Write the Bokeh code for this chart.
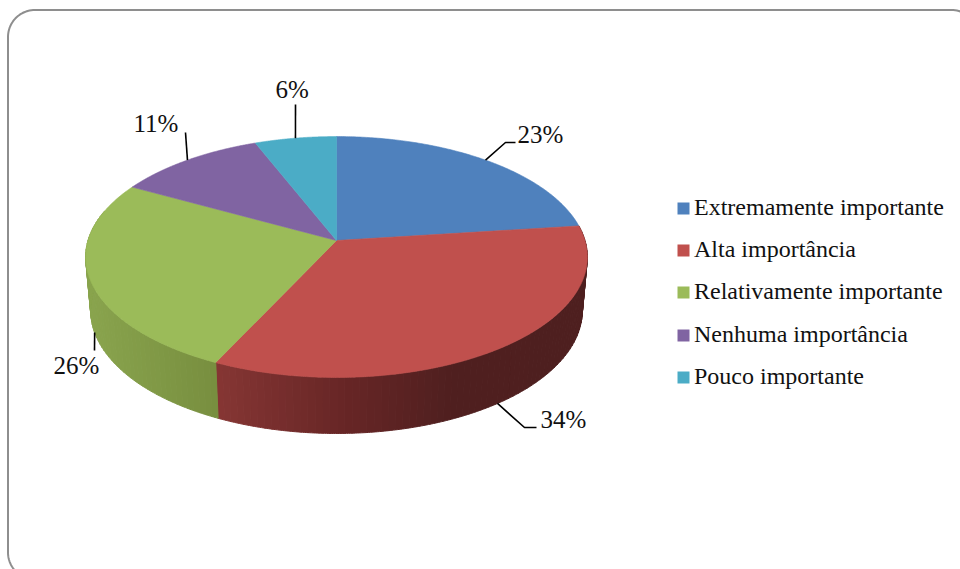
import numpy as np
from bokeh.core.properties import value
from bokeh.embed import file_html
from bokeh.models import ColumnDataSource, Range1d
from bokeh.plotting import figure
from bokeh.resources import INLINE

# Survey shares, clockwise from twelve o'clock
categories = ["Extremamente importante", "Alta importância", "Relativamente importante",
              "Nenhuma importância", "Pouco importante"]
shares = [23, 34, 26, 11, 6]
top_colors = ["#4F81BD", "#C0504D", "#9BBB59", "#8064A2", "#4BACC6"]

# Perspective of the tilted disc, in page pixels
CX, CY = 336.0, 240.0
RX, RY, PERSP = 248.5, 118.2, 0.137
DEPTH_SCALE = 0.98

FONT = value("Liberation Serif")


def rim(theta):
    """Top rim of the disc at clockwise angle theta (radians from north)."""
    u, v = np.sin(theta), np.cos(theta)
    d = 1 + PERSP * v
    return CX + RX * u / d, CY - RY * v / d


def base(theta):
    """Lower rim: the top rim pulled in and dropped by the disc thickness."""
    x, y = rim(theta)
    return CX + DEPTH_SCALE * (x - CX), y + 53 - 3 * np.cos(theta)


edges = 2 * np.pi * np.cumsum([0] + shares) / sum(shares)
mids = (edges[:-1] + edges[1:]) / 2

p = figure(width=960, height=569, output_backend="svg", toolbar_location=None,
           x_range=Range1d(0, 960), y_range=Range1d(569, 0),
           min_border=0, outline_line_color=None, background_fill_color="white",
           border_fill_color="white")
p.axis.visible = False
p.grid.visible = False

# Rounded slide frame, running off the right and bottom of the page
corner = np.linspace(0, np.pi / 2, 24)
FR = 27
L, T, R, B = 7.5, 9.5, 978, 579
frame_x = np.concatenate([L + FR - FR * np.cos(corner),
                          R - FR + FR * np.sin(corner),
                          R - FR + FR * np.cos(corner),
                          L + FR - FR * np.sin(corner)])
frame_y = np.concatenate([T + FR - FR * np.sin(corner),
                          T + FR - FR * np.cos(corner),
                          B - FR + FR * np.sin(corner),
                          B - FR + FR * np.cos(corner)])
p.line(np.append(frame_x, frame_x[0]), np.append(frame_y, frame_y[0]),
       line_color="#8E8E8E", line_width=2)

# Side wall, shaded in narrow vertical bands
red_stops = ([216, 340, 450, 600], [(134, 54, 52), (104, 38, 38), (79, 31, 31), (78, 31, 31)])
green_stops = ([85, 216], [(138, 165, 78), (120, 143, 63)])


def shade(x, stops):
    xs, cols = stops
    return "#%02x%02x%02x" % tuple(int(round(np.interp(x, xs, [c[i] for c in cols]))) for i in range(3))


wall = dict(xs=[], ys=[], color=[])
for start, stop, stops in [(edges[1], edges[2], red_stops),
                           (edges[2], np.radians(285), green_stops)]:
    ticks = np.linspace(start, stop, int((stop - start) / np.radians(1.5)) + 2)
    for a, b in zip(ticks[:-1], ticks[1:]):
        t = np.linspace(a, b, 5)
        tx, ty = rim(t)
        bx, by = base(t)
        wall["xs"].append(np.concatenate([tx, bx[::-1]]).tolist())
        wall["ys"].append(np.concatenate([ty, by[::-1]]).tolist())
        wall["color"].append(shade(bx.mean(), stops))
p.patches("xs", "ys", source=ColumnDataSource(wall), fill_color="color", line_color="color", line_width=1)

# Top face of every slice
faces = dict(xs=[], ys=[], color=top_colors, name=categories)
for a, b in zip(edges[:-1], edges[1:]):
    t = np.linspace(a, b, 160)
    x, y = rim(t)
    faces["xs"].append([CX, *x.tolist()])
    faces["ys"].append([CY, *y.tolist()])
p.patches("xs", "ys", source=ColumnDataSource(faces), fill_color="color", line_color="color", line_width=0.6)

# Percentage labels with leader lines; each leader leaves the rim at the slice's middle
label_x = [517, 540, 53, 133, 275]
label_y = [134, 419, 365, 123, 89]
on_wall = [False, True, True, False, False]
leader_via = [[(505, 142), (515, 142)], [(524, 427), (536, 427)], [(94, 350)], [(185, 132)], [(295, 104)]]
for mid, via, low in zip(mids, leader_via, on_wall):
    sx, sy = base(mid) if low else rim(mid)
    p.line([float(sx)] + [q[0] for q in via], [float(sy)] + [q[1] for q in via],
           line_color="black", line_width=1.6)
p.text(label_x, label_y, text=[f"{s}%" for s in shares], text_font=FONT, text_font_size="25px",
       text_color="#111111", text_baseline="middle", text_align="left")

# Legend column
swatch_y = [208, 250, 292, 335, 377]
legend_y = [206.5, 248.5, 290.5, 333.5, 375.5]
p.scatter([683] * 5, swatch_y, marker="square", size=12, fill_color=top_colors, line_color=None)
p.text([693.5] * 5, legend_y, text=categories, text_font=FONT, text_font_size="24px",
       text_color="#111111", text_baseline="middle", text_align="left")

open("out.html", "w").write(file_html(p, INLINE))
